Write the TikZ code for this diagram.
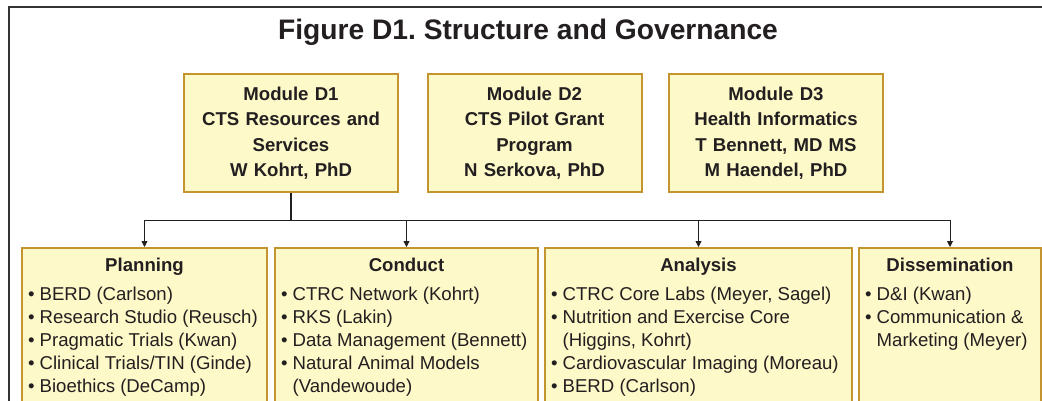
\documentclass[tikz,border=0pt]{standalone}
\usepackage{fontspec}
\setmainfont{Liberation Sans}
\frenchspacing
\usetikzlibrary{arrows.meta}
\definecolor{boxfill}{HTML}{FDF9C8}
\definecolor{boxline}{HTML}{C4942F}
\definecolor{ink}{HTML}{231F20}
\definecolor{frame}{HTML}{333333}
\newcommand{\bitm}[1]{\par\noindent\hbox{\textbullet\ #1}}
\newcommand{\bcont}[1]{\par\noindent\hbox{\phantom{\textbullet\ }#1}}
\newcommand{\colbox}[3]{\parbox[t][175pt][t]{#1}{\fontsize{18.6}{23}\selectfont\centering\bfseries\rule{0pt}{23pt}#2\par\raggedright\mdseries\vspace{6pt}#3}}
\tikzset{
  modbox/.style={draw=boxline, fill=boxfill, line width=2pt, text=ink,
    align=center, text width=205pt, minimum width=214pt, minimum height=118pt,
    inner sep=0pt, font=\fontsize{18.6}{25.5}\selectfont\bfseries},
  colbx/.style={draw=boxline, fill=boxfill, line width=2pt, text=ink,
    anchor=north, inner xsep=6pt, inner ysep=0pt},
  link/.style={draw=ink, line width=0.9pt},
  arr/.style={draw=ink, line width=0.9pt, -{Triangle[length=6pt,width=6pt]}}
}
\begin{document}
\begin{tikzpicture}[x=1pt,y=-1pt]
\useasboundingbox (0,0) rectangle (1042,400);
\clip (0,0) rectangle (1042,400);
\fill[white] (0,0) rectangle (1042,400);
\draw[frame, line width=2pt] (9,7) rectangle (1070,430);
\node[text=ink, anchor=base, font=\fontsize{28.2}{30}\selectfont\bfseries] (title) at (528,39) {Figure D1. Structure and Governance};
\node[modbox] (d1) at (291,133) {Module D1\\CTS Resources and\\Services\\W Kohrt, PhD};
\node[modbox] (d2) at (534.5,133) {Module D2\\CTS Pilot Grant\\Program\\N Serkova, PhD};
\node[modbox] (d3) at (776,133) {Module D3\\Health Informatics\\T Bennett, MD MS\\M Haendel, PhD};
\node[colbx] (plan) at (144.5,247) {\colbox{233pt}{Planning}{%
  \bitm{BERD (Carlson)}\bitm{Research Studio (Reusch)}\bitm{Pragmatic Trials (Kwan)}%
  \bitm{Clinical Trials/TIN (Ginde)}\bitm{Bioethics (DeCamp)}}};
\node[colbx] (cond) at (406.5,247) {\colbox{251pt}{Conduct}{%
  \bitm{CTRC Network (Kohrt)}\bitm{RKS (Lakin)}\bitm{Data Management (Bennett)}%
  \bitm{Natural Animal Models}\bcont{(Vandewoude)}}};
\node[colbx] (anal) at (698.5,247) {\colbox{295pt}{Analysis}{%
  \bitm{CTRC Core Labs (Meyer, Sagel)}\bitm{Nutrition and Exercise Core}\bcont{(Higgins, Kohrt)}%
  \bitm{Cardiovascular Imaging (Moreau)}\bitm{BERD (Carlson)}}};
\node[colbx] (diss) at (950,247) {\colbox{170pt}{Dissemination}{%
  \bitm{D\&I (Kwan)}\bitm{Communication \&}\bcont{Marketing (Meyer)}}};
\coordinate (hub) at (291,220);
\draw[link, line width=2pt] (d1.south) -- (hub);
\draw[link] (hub -| plan.north) -- (hub -| diss.north);
\draw[arr] (hub -| plan.north) -- (plan.north);
\draw[arr] (hub -| cond.north) -- (cond.north);
\draw[arr] (hub -| anal.north) -- (anal.north);
\draw[arr] (hub -| diss.north) -- (diss.north);
\end{tikzpicture}
\end{document}
